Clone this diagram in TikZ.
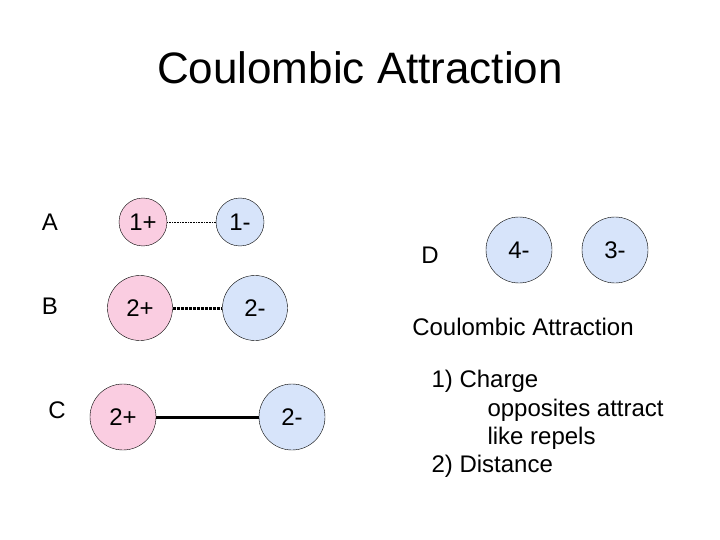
\documentclass[tikz,border=0pt]{standalone}
\usepackage{fontspec}
\setmainfont{Liberation Sans}
\usetikzlibrary{positioning}
\definecolor{pospink}{RGB}{250,205,225}
\definecolor{negblue}{RGB}{215,228,250}
\tikzstyle{ion} = [circle, draw=black, inner sep=0pt, font=\fontsize{24}{28}\selectfont]
\tikzstyle{cation} = [ion, fill=pospink]
\tikzstyle{anion} = [ion, fill=negblue]
\tikzstyle{label} = [font=\fontsize{24}{28}\selectfont]
\begin{document}
\begin{tikzpicture}[x=1pt, y=-1pt]
\useasboundingbox (0,0) rectangle (720,540);
% Title
\node (title) at (360,68) {\fontsize{44}{52}\selectfont Coulombic Attraction};
% Row A
\node (lblA) [label] at (50,222) {A};
\node (pa) [cation, minimum size=48pt] at (143,222) {1+};
\node (na) [anion, minimum size=48pt] at (240,222) {1-};
% Row B
\node (lblB) [label] at (50,306) {B};
\node (pb) [cation, minimum size=65pt] at (140,308) {2+};
\node (nb) [anion, minimum size=65pt] at (255,308) {2-};
% Row C
\node (lblC) [label] at (57,410) {C};
\node (pc) [cation, minimum size=66pt] at (123,417) {2+};
\node (nc) [anion, minimum size=66pt] at (292,417) {2-};
% Row D
\node (lblD) [label] at (430,255) {D};
\node (nd1) [anion, minimum size=66pt] at (519,250) {4-};
\node (nd2) [anion, minimum size=66pt] at (615,250) {3-};
% Notes
\node (sub) [label] at (523,327) {Coulombic Attraction};
\node (n1) [label, anchor=west] at (428,381) {1) Charge};
\node (n2) [label, anchor=west] at (484,410) {opposites attract};
\node (n3) [label, anchor=west] at (484,438) {like repels};
\node (n4) [label, anchor=west] at (428,466) {2) Distance};
% Connectors
\draw [densely dotted, line width=0.6pt] (pa) -- (na);
\draw [densely dotted, line width=3pt] (pb) -- (nb);
\draw [line width=3pt] (pc) -- (nc);
\end{tikzpicture}
\end{document}
